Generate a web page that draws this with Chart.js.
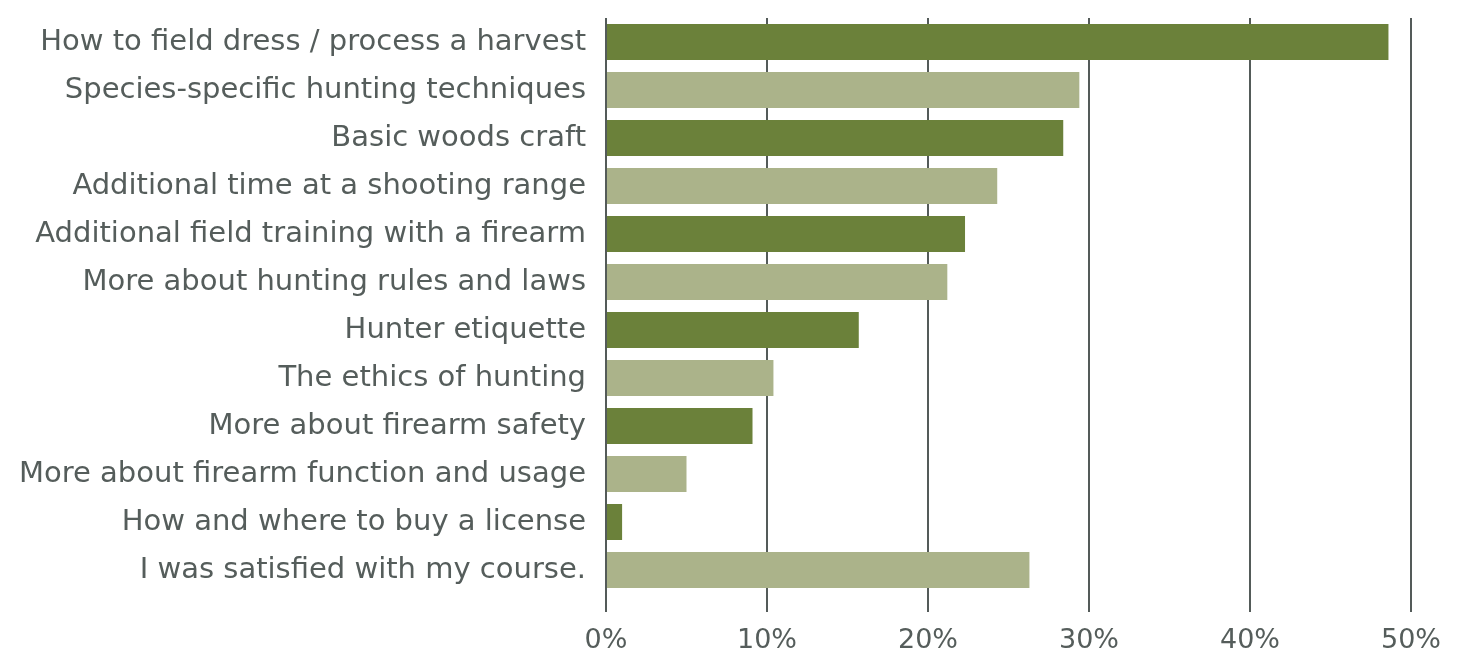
<!DOCTYPE html>
<html>
<head>
<meta charset="utf-8">
<script src="https://cdn.jsdelivr.net/npm/chart.js@4"></script>
<style>
  html, body { margin: 0; padding: 0; background: #ffffff; }
  #wrap { width: 1460px; height: 656px; }
</style>
</head>
<body>
<div id="wrap"><canvas id="myChart"></canvas></div>
<script>
const topics = [
    'How to field dress / process a harvest',
    'Species-specific hunting techniques',
    'Basic woods craft',
    'Additional time at a shooting range',
    'Additional field training with a firearm',
    'More about hunting rules and laws',
    'Hunter etiquette',
    'The ethics of hunting',
    'More about firearm safety',
    'More about firearm function and usage',
    'How and where to buy a license',
    'I was satisfied with my course.'
]
const percentages = [48.6, 29.4, 28.4, 24.3, 22.3, 21.2, 15.7, 10.4, 9.1, 5.0, 1.0, 26.3]
const xTicks = [0, 10, 20, 30, 40, 50]

const darkGreen = '#6b813a'
const lightGreen = '#abb38a'
const textColor = '#555d5b'

Chart.defaults.font.family = "'DejaVu Sans', sans-serif"
Chart.defaults.color = textColor

const barColors = topics.map((t, i) => i % 2 === 0 ? darkGreen : lightGreen)

let ctx = document.getElementById('myChart')
const data = {
    labels: topics,
    datasets: [{
        data: percentages,
        backgroundColor: barColors,
        borderWidth: 0,
        categoryPercentage: 1,
        barPercentage: 0.75
    }]
}

const config = {
    type: 'bar',
    data: data,
    options: {
        indexAxis: 'y',
        responsive: true,
        maintainAspectRatio: false,
        animation: false,
        layout: {
            padding: { top: 18, right: 49, bottom: 0, left: 0 }
        },
        plugins: {
            legend: { display: false },
            tooltip: { enabled: false }
        },
        scales: {
            x: {
                min: xTicks[0],
                max: xTicks[xTicks.length - 1],
                afterBuildTicks: function (scale) {
                    scale.ticks = xTicks.map(v => ({ value: v }))
                },
                afterFit: function (scale) {
                    scale.height = 62
                },
                grid: {
                    color: '#545b59',
                    lineWidth: 2,
                    drawTicks: true,
                    tickLength: 18
                },
                border: { display: false },
                ticks: {
                    padding: 13,
                    font: { size: 27 },
                    color: textColor,
                    callback: function (v) { return v + '%' }
                }
            },
            y: {
                afterFit: function (scale) {
                    scale.width = 606
                    scale.paddingTop = 0
                    scale.paddingBottom = 0
                },
                grid: { display: false },
                border: { display: false },
                ticks: {
                    padding: 12,
                    font: { size: 29 },
                    color: textColor
                }
            }
        }
    }
}

const myChart = new Chart(ctx, config)
</script>
</body>
</html>
